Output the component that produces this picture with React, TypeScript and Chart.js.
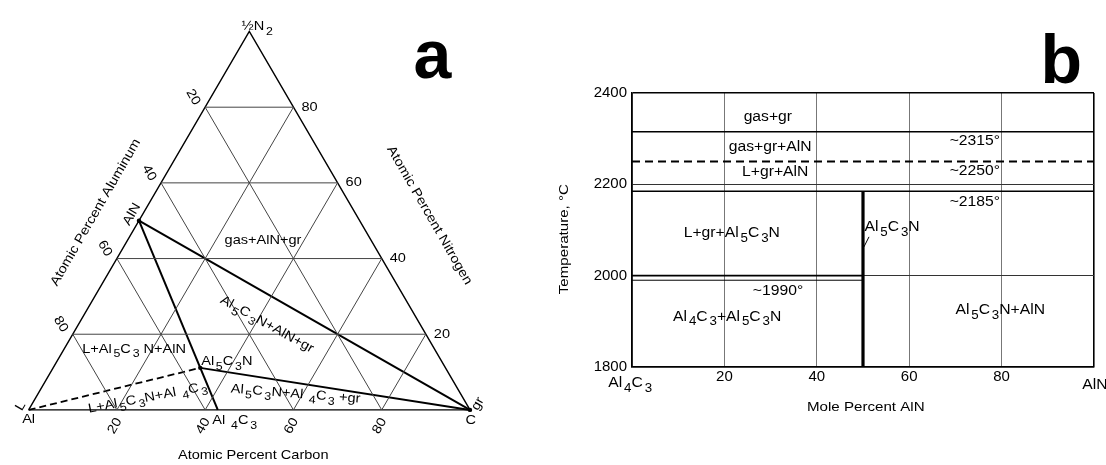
import React, { useEffect, useRef } from 'react';
import { Chart, registerables } from 'chart.js';

Chart.register(...registerables);

const FONT = '"Liberation Sans", Arial, Helvetica, sans-serif';

// ---------- Panel a: Al – C – ½N2 ternary (atomic percent) ----------
const GRID_PERCENTS = [20, 40, 60, 80];
const VERTEX_AL = [100, 0, 0];
const VERTEX_C = [0, 100, 0];
const VERTEX_N = [0, 0, 100];
const PHASES = ['Al', 'AlN', 'Al5C3N', 'Al4C3', 'C'];
const PHASE_AL = [100, 50, 55.56, 57.14, 0];
const PHASE_C = [0, 0, 33.33, 42.86, 100];
const PHASE_N = [0, 50, 11.11, 0, 0];
const TIE_SOLID: [string, string][] = [['AlN', 'C'], ['AlN', 'Al4C3'], ['Al5C3N', 'C']];
const TIE_DASHED: [string, string][] = [['Al', 'Al5C3N']];
const MARKED_PHASES = ['AlN', 'Al5C3N', 'C'];

// ---------- Panel b: Al4C3 – AlN section ----------
const MOLE_RANGE = [0, 100];
const MOLE_STEP = 20;
const TEMP_RANGE = [1800, 2400];
const TEMP_STEP = 200;
const ISOTHERM_T = [2315, 2250, 2185, 2000, 1990];
const ISOTHERM_FROM = [0, 0, 0, 0, 0];
const ISOTHERM_TO = [100, 100, 100, 50, 50];
const ISOTHERM_DASHED = [false, true, false, false, false];
const COMPOUND_MOLE = 50;
const COMPOUND_T = [1800, 2185];
const LEADER_MOLE = [51.3, 50.2];
const LEADER_T = [2085, 2063];

// ---------- text annotations ----------
type Lbl = { text: string; x: number; y: number; rot?: number; size?: number; align?: CanvasTextAlign; bold?: boolean; base?: CanvasTextBaseline; hs?: number };

const LABELS_A: Lbl[] = [
  { text: '½N_2', x: 51.8, y: 101.3 },
  { text: 'AlN', x: 23.4, y: 51.7, rot: -60 },
  { text: 'L', x: -1.8, y: 1.0, rot: -60 },
  { text: 'Al', x: 0, y: -2.4 },
  { text: 'C', x: 100.2, y: -2.9 },
  { text: 'gr', x: 101.8, y: 1.6, rot: -60 },
  { text: 'Al _4C_3', x: 46.7, y: -2.9 },
  { text: 'gas+AlN+gr', x: 53.1, y: 44.7 },
  { text: 'Al_5C_3N+AlN+gr', x: 54.0, y: 22.6, rot: 29 },
  { text: 'L+Al_5C_3 N+AlN', x: 23.9, y: 16.0 },
  { text: 'Al_5C_3N', x: 44.9, y: 12.7 },
  { text: 'L+Al_5C_3N+Al _4C_3', x: 27.0, y: 3.2, rot: -11 },
  { text: 'Al_5C_3N+Al _4C_3 +gr', x: 60.5, y: 4.2, rot: 4.5 },
  { text: 'Atomic Percent Carbon', x: 50.9, y: -11.9 },
  { text: 'Atomic Percent Aluminum', x: 15.2, y: 52.2, rot: -60 },
  { text: 'Atomic Percent Nitrogen', x: 90.8, y: 51.4, rot: 60 },
  { text: 'a', x: 91.5, y: 87.8, size: 68, bold: true, base: 'alphabetic', hs: 1.0 },
];

const LABELS_B: Lbl[] = [
  { text: 'gas+gr', x: 29.4, y: 2347 },
  { text: 'gas+gr+AlN', x: 29.9, y: 2282 },
  { text: 'L+gr+AlN', x: 31.0, y: 2227 },
  { text: '~2315°', x: 74.2, y: 2295 },
  { text: '~2250°', x: 74.2, y: 2229 },
  { text: '~2185°', x: 74.2, y: 2161 },
  { text: 'L+gr+Al_5C_3N', x: 21.6, y: 2093 },
  { text: 'Al_5C_3N', x: 56.3, y: 2106 },
  { text: '~1990°', x: 31.6, y: 1966 },
  { text: 'Al_4C_3+Al_5C_3N', x: 20.6, y: 1910 },
  { text: 'Al_5C_3N+AlN', x: 79.7, y: 1925 },
  { text: 'Al_4C_3', x: -0.4, y: 1765, size: 14 },
  { text: 'AlN', x: 100.2, y: 1761, size: 14 },
  { text: 'Mole Percent AlN', x: 50.6, y: 1712, size: 13.5 },
  { text: 'Temperature, °C', x: -14.7, y: 2080, rot: -90, size: 13.5 },
  { text: 'b', x: 92.9, y: 2422, size: 68, bold: true, base: 'alphabetic', hs: 1.0 },
];

// ---------- helpers ----------
type Seg = { t: string; sub: boolean };
function parseRich(s: string): Seg[] {
  const out: Seg[] = [];
  let buf = '';
  for (let i = 0; i < s.length; i++) {
    if (s[i] === '_' && i + 1 < s.length) {
      if (buf) out.push({ t: buf, sub: false });
      buf = '';
      out.push({ t: s[i + 1], sub: true });
      i++;
    } else buf += s[i];
  }
  if (buf) out.push({ t: buf, sub: false });
  return out;
}

function drawRich(ctx: CanvasRenderingContext2D, l: Lbl, px: number, py: number, defSize: number, defHs: number) {
  const size = l.size ?? defSize;
  const hs = l.hs ?? defHs;
  const segs = parseRich(l.text);
  const main = `${l.bold ? 'bold ' : ''}${size}px ${FONT}`;
  const sub = `${size * 0.85}px ${FONT}`;
  ctx.save();
  ctx.translate(px, py);
  ctx.rotate(((l.rot ?? 0) * Math.PI) / 180);
  ctx.scale(hs, 1);
  let w = 0;
  const widths = segs.map((s) => {
    ctx.font = s.sub ? sub : main;
    const ww = ctx.measureText(s.t).width + (s.sub ? size * 0.12 : 0);
    w += ww;
    return ww;
  });
  const align = l.align ?? 'center';
  let cx = align === 'center' ? -w / 2 : align === 'left' ? 0 : -w;
  ctx.textBaseline = l.base ?? 'middle';
  ctx.textAlign = 'left';
  ctx.fillStyle = '#000';
  segs.forEach((s, i) => {
    ctx.font = s.sub ? sub : main;
    ctx.fillText(s.t, cx + (s.sub ? size * 0.12 : 0), s.sub ? size * 0.38 : 0);
    cx += widths[i];
  });
  ctx.restore();
}

const tern = (al: number, c: number, n: number) => ({ x: c + n / 2, y: n });
const phaseXY = (name: string) => {
  const i = PHASES.indexOf(name);
  return tern(PHASE_AL[i], PHASE_C[i], PHASE_N[i]);
};

export default function App() {
  const refA = useRef<HTMLCanvasElement>(null);
  const refB = useRef<HTMLCanvasElement>(null);

  useEffect(() => {
    // ----- chart a -----
    const outline = [0, 1, 2, 0].map((k) => tern(VERTEX_AL[k], VERTEX_C[k], VERTEX_N[k]));
    const dsA: any[] = [];
    GRID_PERCENTS.forEach((v) => {
      const lines = [
        [tern(100 - v, 0, v), tern(0, 100 - v, v)],
        [tern(100 - v, v, 0), tern(0, v, 100 - v)],
        [tern(v, 100 - v, 0), tern(v, 0, 100 - v)],
      ];
      lines.forEach((pts) =>
        dsA.push({ data: pts, showLine: true, borderColor: '#444', borderWidth: 1, pointRadius: 0 })
      );
    });
    dsA.push({ data: outline, showLine: true, borderColor: '#000', borderWidth: 1.4, pointRadius: 0 });
    TIE_SOLID.forEach(([a, b]) =>
      dsA.push({ data: [phaseXY(a), phaseXY(b)], showLine: true, borderColor: '#000', borderWidth: 2, pointRadius: 0 })
    );
    TIE_DASHED.forEach(([a, b]) =>
      dsA.push({ data: [phaseXY(a), phaseXY(b)], showLine: true, borderColor: '#000', borderWidth: 1.8, borderDash: [7, 4], pointRadius: 0 })
    );
    dsA.push({ data: MARKED_PHASES.map(phaseXY), showLine: false, pointRadius: 2.2, backgroundColor: '#000', borderWidth: 0 });

    const labelsPluginA = {
      id: 'labelsA',
      afterDatasetsDraw(chart: any) {
        const { ctx, scales } = chart;
        const X = (v: number) => scales.x.getPixelForValue(v);
        const Y = (v: number) => scales.y.getPixelForValue(v);
        LABELS_A.forEach((l) => drawRich(ctx, l, X(l.x), Y(l.y), 13, 1.12));
        GRID_PERCENTS.forEach((v) => {
          const pa = tern(v, 0, 100 - v);
          drawRich(ctx, { text: String(v), x: 0, y: 0, rot: 60 }, X(pa.x) - 12, Y(pa.y) - 10, 13, 1.12);
          const pn = tern(0, 100 - v, v);
          drawRich(ctx, { text: String(v), x: 0, y: 0, align: 'left' }, X(pn.x) + 8, Y(pn.y), 13, 1.12);
          const pc = tern(100 - v, v, 0);
          drawRich(ctx, { text: String(v), x: 0, y: 0, rot: -60 }, X(pc.x) - 2, Y(pc.y) + 16, 13, 1.12);
        });
      },
    };

    const chartA = new Chart(refA.current!, {
      type: 'scatter',
      data: { datasets: dsA },
      options: {
        animation: false,
        responsive: false,
        layout: { padding: 0 },
        plugins: { legend: { display: false }, tooltip: { enabled: false } },
        scales: {
          x: { type: 'linear', min: -5.58, max: 114.96, display: false },
          y: { type: 'linear', min: -13.5, max: 107.27, display: false },
        },
      },
      plugins: [labelsPluginA],
    });

    // ----- chart b -----
    const dsB: any[] = ISOTHERM_T.map((t, i) => ({
      data: [{ x: ISOTHERM_FROM[i], y: t }, { x: ISOTHERM_TO[i], y: t }],
      showLine: true,
      borderColor: '#000',
      borderWidth: ISOTHERM_DASHED[i] ? 1.8 : i === 4 ? 1 : 1.6,
      borderDash: ISOTHERM_DASHED[i] ? [8, 5] : [],
      pointRadius: 0,
    }));
    dsB.push({
      data: COMPOUND_T.map((t) => ({ x: COMPOUND_MOLE, y: t })),
      showLine: true, borderColor: '#000', borderWidth: 3.2, pointRadius: 0,
    });
    dsB.push({
      data: LEADER_MOLE.map((m, i) => ({ x: m, y: LEADER_T[i] })),
      showLine: true, borderColor: '#000', borderWidth: 1, pointRadius: 0,
    });

    const labelsPluginB = {
      id: 'labelsB',
      afterDatasetsDraw(chart: any) {
        const { ctx, scales } = chart;
        LABELS_B.forEach((l) =>
          drawRich(ctx, l, scales.x.getPixelForValue(l.x), scales.y.getPixelForValue(l.y), 14, 1.12)
        );
      },
    };

    const isEdge = (v: number, r: number[]) => v === r[0] || v === r[1];
    const tickFont = { family: FONT, size: 15 };
    const chartB = new Chart(refB.current!, {
      type: 'scatter',
      data: { datasets: dsB },
      options: {
        animation: false,
        responsive: false,
        layout: { padding: { top: 93, right: 12, left: 0, bottom: 0 } },
        plugins: { legend: { display: false }, tooltip: { enabled: false } },
        scales: {
          x: {
            type: 'linear', min: MOLE_RANGE[0], max: MOLE_RANGE[1],
            ticks: {
              stepSize: MOLE_STEP, padding: 1, color: '#000', font: tickFont, maxRotation: 0, autoSkip: false,
              callback: (v: any) => (isEdge(Number(v), MOLE_RANGE) ? '' : String(v)),
            },
            grid: {
              drawTicks: false,
              color: (c: any) => (isEdge(c.tick?.value, MOLE_RANGE) ? '#000' : '#777'),
              lineWidth: (c: any) => (isEdge(c.tick?.value, MOLE_RANGE) ? 1.6 : 1),
            },
            border: { color: '#000', width: 1.6 },
            afterFit: (s: any) => { s.height = 98; },
          },
          y: {
            type: 'linear', min: TEMP_RANGE[0], max: TEMP_RANGE[1],
            ticks: {
              stepSize: TEMP_STEP, padding: 5, color: '#000', font: tickFont,
              callback: (v: any) => String(v),
            },
            grid: {
              drawTicks: false,
              color: (c: any) => (isEdge(c.tick?.value, TEMP_RANGE) ? '#000' : '#333'),
              lineWidth: (c: any) => (isEdge(c.tick?.value, TEMP_RANGE) ? 1.6 : 1),
            },
            border: { color: '#000', width: 1.6 },
            afterFit: (s: any) => { s.width = 92; },
          },
        },
      },
      plugins: [labelsPluginB],
    });

    return () => {
      chartA.destroy();
      chartB.destroy();
    };
  }, []);

  return (
    <div style={{ position: 'fixed', left: 0, top: 0, width: 1106, height: 465, background: '#fff' }}>
      <div style={{ position: 'absolute', left: 0, top: 0, width: 540, height: 465 }}>
        <canvas ref={refA} width={540} height={465} style={{ width: 540, height: 465, display: 'block' }} />
      </div>
      <div style={{ position: 'absolute', left: 540, top: 0, width: 566, height: 465 }}>
        <canvas ref={refB} width={566} height={465} style={{ width: 566, height: 465, display: 'block' }} />
      </div>
    </div>
  );
}
